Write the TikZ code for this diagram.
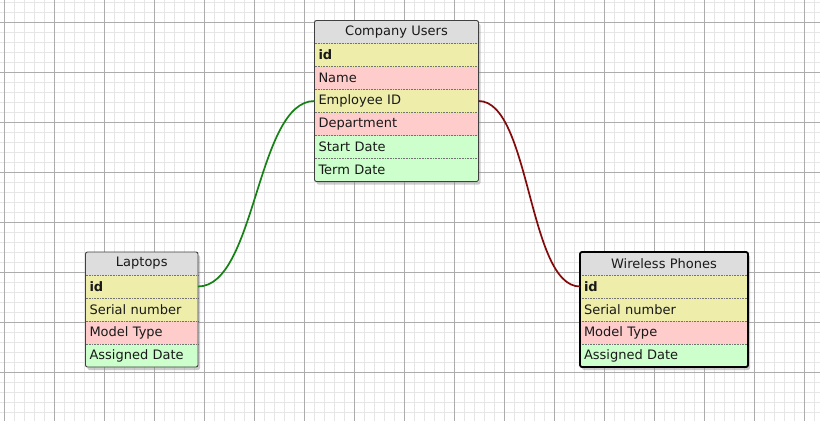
\documentclass[tikz,border=0pt]{standalone}
\usepackage{fontspec}
\setmainfont{DejaVu Sans}
\usetikzlibrary{positioning,fit,backgrounds,shadows}
\definecolor{hdrgray}{RGB}{221,221,221}
\definecolor{keyyellow}{RGB}{238,238,170}
\definecolor{attrpink}{RGB}{255,204,204}
\definecolor{dategreen}{RGB}{204,255,204}
\definecolor{minorgrid}{RGB}{230,230,230}
\definecolor{majorgrid}{RGB}{172,172,172}
\definecolor{linkgreen}{RGB}{20,130,20}
\definecolor{linkred}{RGB}{130,10,10}

\begin{document}
\begin{tikzpicture}[x=1pt, y=-1pt,
    every node/.style={font=\fontsize{13}{15}\selectfont, text=black!90, inner xsep=4pt, inner ysep=0pt, outer sep=0pt, minimum height=23pt},
    hdr/.style={fill=hdrgray, align=center},
    yel/.style={fill=keyyellow, align=left},
    pnk/.style={fill=attrpink, align=left},
    grn/.style={fill=dategreen, align=left},
    shadowbox/.style={fill=white, rounded corners=2pt, inner sep=0pt, drop shadow={opacity=0.4, shadow xshift=2pt, shadow yshift=-3pt}},
    frame/.style={draw=black!75, line width=0.9pt, rounded corners=2pt, inner sep=0pt},
    sep/.style={densely dotted, black!55, line width=0.6pt},
    link/.style={line width=1.7pt}]
    \useasboundingbox (0,0) rectangle (820,421);

    % Grid paper
    \begin{scope}[on background layer]
        \fill[white] (0,0) rectangle (820,421);
        \foreach \x in {4.5,14.5,...,820} \draw[minorgrid] (\x,0) -- (\x,421);
        \foreach \y in {2.5,12.5,...,421} \draw[minorgrid] (0,\y) -- (820,\y);
        \foreach \x in {4.5,54.5,...,820} \draw[majorgrid] (\x,0) -- (\x,421);
        \foreach \y in {22.5,72.5,...,421} \draw[majorgrid] (0,\y) -- (820,\y);
    \end{scope}

    % Company Users
    \node[hdr, text width=156pt, anchor=north west] (cu) at (314.5,20.5) {Company Users};
    \node[yel, text width=156pt, below=0pt of cu] (cuid) {\textbf{id}};
    \node[pnk, text width=156pt, below=0pt of cuid] (cuname) {Name};
    \node[yel, text width=156pt, below=0pt of cuname] (cuemp) {Employee ID};
    \node[pnk, text width=156pt, below=0pt of cuemp] (cudept) {Department};
    \node[grn, text width=156pt, below=0pt of cudept] (custart) {Start Date};
    \node[grn, text width=156pt, below=0pt of custart] (cuterm) {Term Date};
    \foreach \r in {cu,cuid,cuname,cuemp,cudept,custart}
        \draw[sep] (\r.south west) -- (\r.south east);
    \begin{scope}[on background layer]
        \node[shadowbox, fit=(cu)(cuterm)] (cushadow) {};
    \end{scope}
    \node[frame, fit=(cu)(cuterm)] (cubox) {};

    % Laptops
    \node[hdr, text width=104.5pt, anchor=north west] (lp) at (85.5,252) {Laptops};
    \node[yel, text width=104.5pt, below=0pt of lp] (lpid) {\textbf{id}};
    \node[yel, text width=104.5pt, below=0pt of lpid] (lpserial) {Serial number};
    \node[pnk, text width=104.5pt, below=0pt of lpserial] (lpmodel) {Model Type};
    \node[grn, text width=104.5pt, below=0pt of lpmodel] (lpdate) {Assigned Date};
    \foreach \r in {lp,lpid,lpserial,lpmodel}
        \draw[sep] (\r.south west) -- (\r.south east);
    \begin{scope}[on background layer]
        \node[shadowbox, fit=(lp)(lpdate)] (lpshadow) {};
    \end{scope}
    \node[frame, fit=(lp)(lpdate)] (lpbox) {};

    % Wireless Phones (selected)
    \node[hdr, text width=160pt, anchor=north west] (wp) at (580,252) {Wireless Phones};
    \node[yel, text width=160pt, below=0pt of wp] (wpid) {\textbf{id}};
    \node[yel, text width=160pt, below=0pt of wpid] (wpserial) {Serial number};
    \node[pnk, text width=160pt, below=0pt of wpserial] (wpmodel) {Model Type};
    \node[grn, text width=160pt, below=0pt of wpmodel] (wpdate) {Assigned Date};
    \foreach \r in {wp,wpid,wpserial,wpmodel}
        \draw[sep] (\r.south west) -- (\r.south east);
    \begin{scope}[on background layer]
        \node[shadowbox, fit=(wp)(wpdate)] (wpshadow) {};
    \end{scope}
    \node[frame, draw=black, line width=1.8pt, fit=(wp)(wpdate)] (wpbox) {};

    % Relations
    \draw[link, linkgreen] (lpid.east) .. controls +(58,0) and +(-58,0) .. (cuemp.west);
    \draw[link, linkred] (cuemp.east) .. controls +(52,0) and +(-52,0) .. (wpid.west);
\end{tikzpicture}
\end{document}
